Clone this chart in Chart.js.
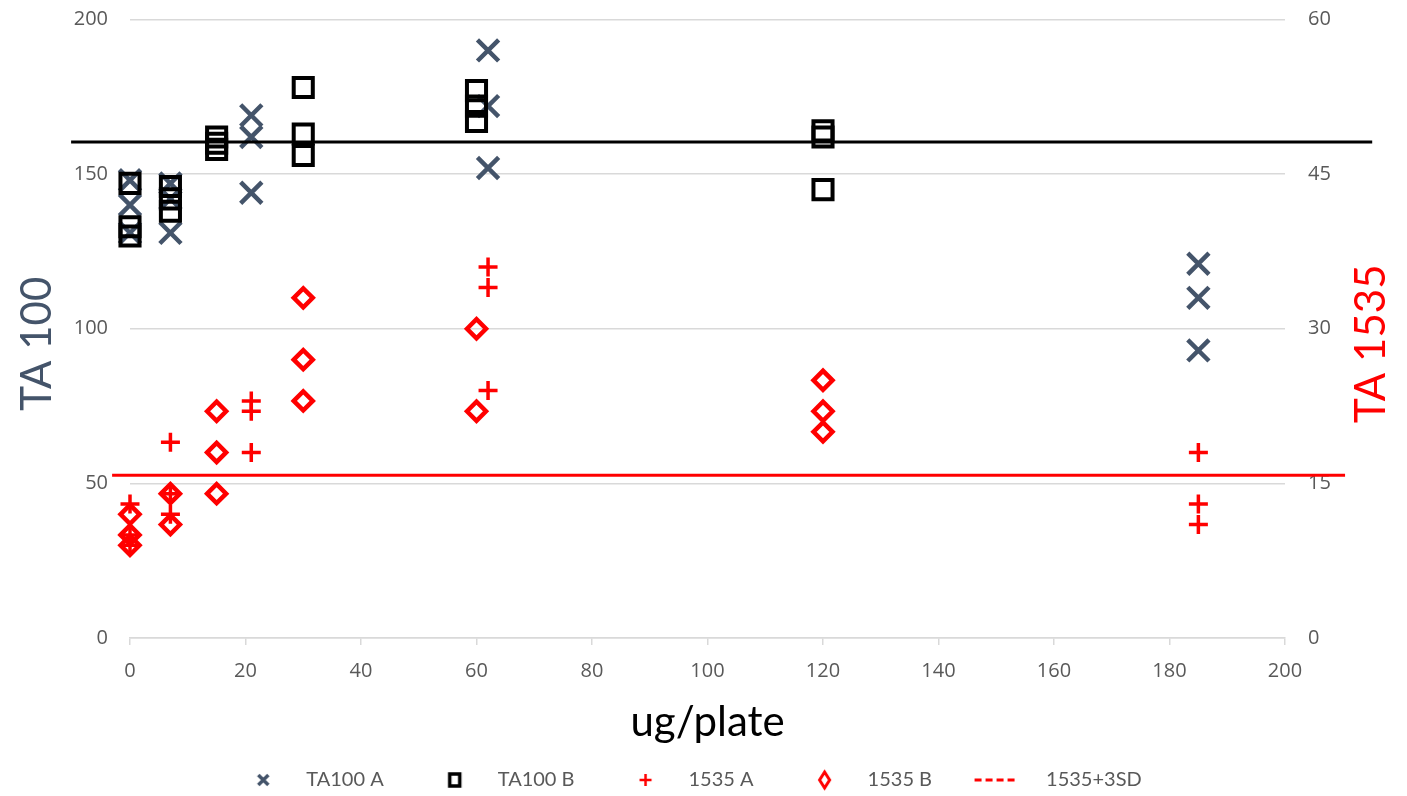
<!DOCTYPE html>
<html>
<head>
<meta charset="utf-8">
<script src="https://cdn.jsdelivr.net/npm/chart.js@4"></script>
<style>
  html, body { margin: 0; padding: 0; background: #fff; }
  #wrap { width: 1407px; height: 796px; }
</style>
</head>
<body>
<div id="wrap"><canvas id="chart"></canvas></div>
<script>
// doses (ug/plate) and plate counts
const ta100A_x = [0, 0, 0, 7, 7, 7, 21, 21, 21, 62, 62, 62, 185, 185, 185];
const ta100A_y = [148, 140, 131, 147, 142, 131, 169, 162, 144, 190, 172, 152, 121, 110, 93];

const ta100B_x = [0, 0, 0, 7, 7, 7, 15, 15, 15, 30, 30, 30, 60, 60, 60, 120, 120, 120];
const ta100B_y = [147, 133, 130, 146, 142, 138, 162, 160, 158, 178, 163, 156, 177, 172, 167, 164, 162, 145];

const a1535_x = [0, 0, 0, 7, 7, 7, 21, 21, 21, 62, 62, 62, 185, 185, 185];
const a1535_y = [13, 10, 9, 19, 14, 12, 23, 22, 18, 36, 34, 24, 18, 13, 11];

const b1535_x = [0, 0, 0, 7, 7, 15, 15, 15, 30, 30, 30, 60, 60, 120, 120, 120];
const b1535_y = [12, 10, 9, 14, 11, 22, 18, 14, 33, 27, 23, 30, 22, 25, 22, 20];

// +3SD limits (TA100 on left axis, 1535 on right axis)
const ta100Limit = 160.4;
const ta100LimitX = [-10.2, 215.1];
const limit1535 = 15.8;
const limit1535X = [-3.1, 210.4];

const legendNames = ["TA100 A", "TA100 B", "1535 A", "1535 B", "1535+3SD"];

const SLATE = "#44546A";
const RED = "#FF0000";
const GREY_TXT = "#595959";
const GRID = "#D9D9D9";

const pts = (xs, ys) => xs.map((x, i) => ({ x, y: ys[i] }));

// small canvases used as legend symbols (legend box is 31 wide, canvas is centred on it)
function legendIcon(kind, color) {
  const c = document.createElement("canvas");
  c.width = 120; c.height = 22;
  const g = c.getContext("2d");
  const cx = 42.5, cy = 11;
  g.strokeStyle = color;
  g.beginPath();
  if (kind === "x") {
    g.lineWidth = 3.5;
    g.moveTo(cx - 5, cy - 5); g.lineTo(cx + 5, cy + 5);
    g.moveTo(cx + 5, cy - 5); g.lineTo(cx - 5, cy + 5);
  } else if (kind === "square") {
    g.lineWidth = 3.5;
    g.rect(cx - 5, cy - 6, 10, 12);
  } else if (kind === "plus") {
    g.lineWidth = 2.5;
    g.moveTo(cx - 6, cy); g.lineTo(cx + 6, cy);
    g.moveTo(cx, cy - 6); g.lineTo(cx, cy + 6);
  } else if (kind === "diamond") {
    g.lineWidth = 3;
    g.moveTo(cx, cy - 8); g.lineTo(cx + 5, cy); g.lineTo(cx, cy + 8); g.lineTo(cx - 5, cy);
    g.closePath();
  } else {
    g.lineWidth = 3;
    g.setLineDash([7, 4]);
    g.moveTo(14, cy); g.lineTo(54, cy);
  }
  g.stroke();
  return c;
}

const legendIcons = [
  legendIcon("x", SLATE),
  legendIcon("square", "#000"),
  legendIcon("plus", RED),
  legendIcon("diamond", RED),
  legendIcon("dash", RED)
];

// y axis titles drawn a bit below the plot centre, like the original
const axisTitles = {
  id: "axisTitles",
  afterDraw(chart) {
    const { ctx, chartArea } = chart;
    const cy = (chartArea.top + chartArea.bottom) / 2 + 15;
    ctx.save();
    ctx.font = "42px Lato";
    ctx.textAlign = "center";
    ctx.textBaseline = "middle";
    ctx.fillStyle = SLATE;
    ctx.translate(37, cy);
    ctx.rotate(-Math.PI / 2);
    ctx.fillText("TA 100", 0, 0);
    ctx.restore();
    ctx.save();
    ctx.font = "42px Lato";
    ctx.textAlign = "center";
    ctx.textBaseline = "middle";
    ctx.fillStyle = RED;
    ctx.translate(1371, cy);
    ctx.rotate(-Math.PI / 2);
    ctx.fillText("TA 1535", 0, 0);
    ctx.restore();
  }
};

// fixed axis sizes; tick label overflow should not push the plot down
const fixWidth = w => s => {
  s.width = w;
  s.paddingTop = 0;
  s.paddingBottom = 0;
};

const ctx = document.getElementById("chart").getContext("2d");
new Chart(ctx, {
  type: "scatter",
  data: {
    datasets: [
      {
        label: "TA100 A",
        data: pts(ta100A_x, ta100A_y),
        yAxisID: "y",
        pointStyle: "crossRot",
        pointRadius: 15,
        pointBorderWidth: 4.5,
        borderColor: SLATE,
        backgroundColor: SLATE,
        clip: false,
        order: 6
      },
      {
        label: "TA100 B",
        data: pts(ta100B_x, ta100B_y),
        yAxisID: "y",
        pointStyle: "rect",
        pointRadius: 13.5,
        pointBorderWidth: 4,
        borderColor: "#000",
        backgroundColor: "rgba(0,0,0,0)",
        clip: false,
        order: 5
      },
      {
        label: "1535 A",
        data: pts(a1535_x, a1535_y),
        yAxisID: "y1",
        pointStyle: "cross",
        pointRadius: 9.5,
        pointBorderWidth: 3.5,
        borderColor: RED,
        backgroundColor: RED,
        clip: false,
        order: 4
      },
      {
        label: "1535 B",
        data: pts(b1535_x, b1535_y),
        yAxisID: "y1",
        pointStyle: "rectRot",
        pointRadius: 9.5,
        pointBorderWidth: 4.5,
        borderColor: RED,
        backgroundColor: "rgba(0,0,0,0)",
        clip: false,
        order: 3
      },
      {
        label: "1535+3SD",
        data: pts(limit1535X, [limit1535, limit1535]),
        yAxisID: "y1",
        showLine: true,
        pointRadius: 0,
        borderWidth: 3,
        borderColor: RED,
        clip: false,
        order: 2
      },
      {
        label: "TA100+3SD",
        data: pts(ta100LimitX, [ta100Limit, ta100Limit]),
        yAxisID: "y",
        showLine: true,
        pointRadius: 0,
        borderWidth: 3,
        borderColor: "#000",
        clip: false,
        order: 1
      }
    ]
  },
  options: {
    responsive: true,
    maintainAspectRatio: false,
    animation: false,
    layout: { padding: { top: 18, bottom: -4, left: 0, right: 0 } },
    scales: {
      x: {
        type: "linear",
        min: 0,
        max: 200,
        ticks: { stepSize: 20, color: GREY_TXT, font: { family: "Open Sans", size: 20 }, padding: 14 },
        grid: { drawOnChartArea: false, drawTicks: true, tickLength: 7, tickColor: GRID, lineWidth: 1.5 },
        border: { display: true, color: GRID, width: 1.5 },
        title: {
          display: true,
          text: "ug/plate",
          color: "#000",
          font: { family: "Lato", size: 42, lineHeight: "18px" },
          padding: { top: 0, bottom: -34 }
        },
        afterFit: s => { s.height = 59; }
      },
      y: {
        position: "left",
        min: 0,
        max: 200,
        ticks: { stepSize: 50, color: GREY_TXT, font: { family: "Open Sans", size: 20 }, padding: 22 },
        grid: { color: GRID, lineWidth: 1.5, drawTicks: false },
        border: { display: false },
        afterFit: fixWidth(130)
      },
      y1: {
        position: "right",
        min: 0,
        max: 60,
        ticks: { stepSize: 15, color: GREY_TXT, font: { family: "Open Sans", size: 20 }, padding: 23 },
        grid: { display: false, drawTicks: false },
        border: { display: false },
        afterFit: fixWidth(122)
      }
    },
    plugins: {
      tooltip: { enabled: false },
      legend: {
        position: "bottom",
        labels: {
          usePointStyle: true,
          pointStyleWidth: 31,
          boxHeight: 20,
          padding: 73,
          color: GREY_TXT,
          font: { family: "Lato", size: 20 },
          generateLabels: () => legendNames.map((t, i) => ({
            text: t,
            pointStyle: legendIcons[i],
            fillStyle: "rgba(0,0,0,0)",
            strokeStyle: "rgba(0,0,0,0)",
            lineWidth: 0,
            fontColor: GREY_TXT,
            hidden: false,
            datasetIndex: i
          }))
        }
      }
    }
  },
  plugins: [axisTitles]
});
</script>
</body>
</html>
